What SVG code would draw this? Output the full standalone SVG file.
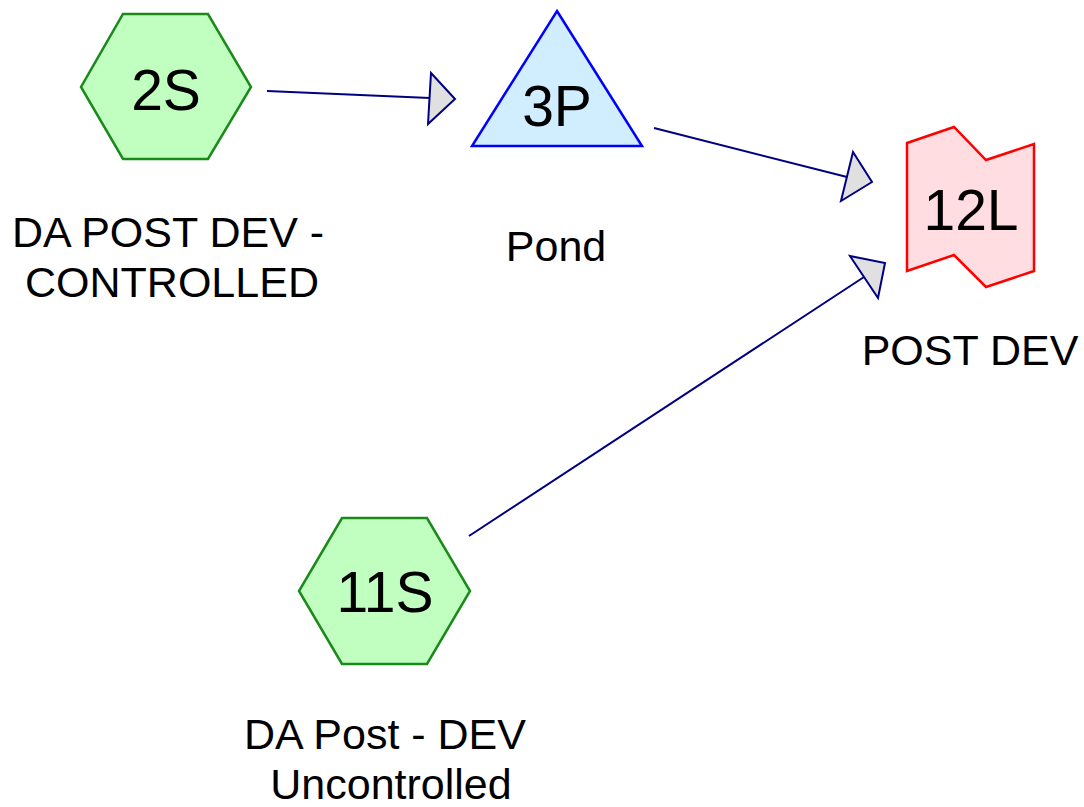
<svg xmlns="http://www.w3.org/2000/svg" width="1084" height="807" viewBox="0 0 1084 807">
<defs>
<style>
.hex{fill:#c0ffc0;stroke:#1a8a1a;stroke-width:2.5}
.tri{fill:#d0eeff;stroke:#0000ff;stroke-width:2.5}
.lim{fill:#ffdde0;stroke:#ff0000;stroke-width:2.5}
.id{font-family:"Liberation Sans",Arial,sans-serif;font-size:57px;fill:#000;text-anchor:middle}
.lbl{font-family:"Liberation Sans",Arial,sans-serif;font-size:43px;fill:#000;text-anchor:middle}
.con{stroke:#000080;stroke-width:2;fill:none}
.head{fill:#e0e0e0;stroke:#000080;stroke-width:2;stroke-linejoin:miter}
</style>
</defs>
<rect width="1084" height="807" fill="#ffffff"/>
<g id="connectors">
<line class="con" x1="267" y1="91" x2="430" y2="98"/>
<polygon class="head" points="431,73 455,99 428,124"/>
<line class="con" x1="654" y1="128" x2="847" y2="177"/>
<polygon class="head" points="853,152 872,182 841,201"/>
<line class="con" x1="469" y1="536" x2="864" y2="277"/>
<polygon class="head" points="850,256 885,263 878,298"/>
</g>
<g id="node-2S">
<polygon class="hex" points="123,14 208,14 251,87 208,159 123,159 81,87"/>
<text class="id" x="166" y="110">2S</text>
<text class="lbl" x="168" y="247">DA POST DEV -</text>
<text class="lbl" x="172" y="297">CONTROLLED</text>
</g>
<g id="node-3P">
<polygon class="tri" points="557,11 642,146 472,146"/>
<text class="id" x="557" y="126">3P</text>
<text class="lbl" x="556" y="261">Pond</text>
</g>
<g id="node-12L">
<polygon class="lim" points="907,143 954,127 986,160 1034,144 1034,271 986,287 954,255 907,271"/>
<text class="id" x="971" y="230">12L</text>
<text class="lbl" x="970" y="365">POST DEV</text>
</g>
<g id="node-11S">
<polygon class="hex" points="342,518 427,518 470,591 427,664 342,664 299,591"/>
<text class="id" x="385" y="612">11S</text>
<text class="lbl" x="385" y="749">DA Post - DEV</text>
<text class="lbl" x="391" y="799">Uncontrolled</text>
</g>
</svg>
